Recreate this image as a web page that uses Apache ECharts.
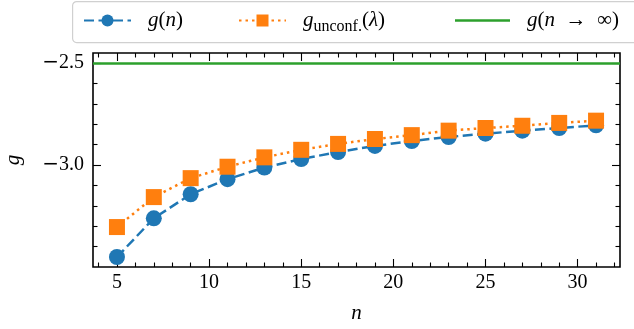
<!DOCTYPE html>
<html>
<head>
<meta charset="utf-8">
<script src="https://cdn.jsdelivr.net/npm/echarts@6/dist/echarts.min.js"></script>
<style>
  html, body { margin: 0; padding: 0; background: #fff; }
  #chart { width: 634px; height: 329px; }
</style>
</head>
<body>
<div id="chart"></div>
<script>
// System sizes n and the two estimates of g
const nValues = [5, 7, 9, 11, 13, 15, 17, 19, 21, 23, 25, 27, 29, 31];
const gFinite = [-3.451, -3.261, -3.143, -3.069, -3.012, -2.970, -2.936, -2.906, -2.882, -2.862, -2.846, -2.831, -2.818, -2.805];
const gUnconf = [-3.304, -3.157, -3.064, -3.008, -2.962, -2.925, -2.896, -2.872, -2.853, -2.831, -2.818, -2.807, -2.793, -2.782];
const gInf = -2.497;

// Axis extents and tick positions
const xRange = [3.7, 32.3];
const yRange = [-3.5, -2.45];
const xMajorTicks = [5, 10, 15, 20, 25, 30];
const xMinorTicks = [4, 6, 7, 8, 9, 11, 12, 13, 14, 16, 17, 18, 19, 21, 22, 23, 24, 26, 27, 28, 29, 31, 32];
const yMajorTicks = [-3.0, -2.5];
const yMinorTicks = [-3.4, -3.3, -3.2, -3.1, -2.9, -2.8, -2.7, -2.6];

const BLUE = '#1f77b4', ORANGE = '#ff7f0e', GREEN = '#2ca02c';
const SERIF = "'Liberation Serif', 'DejaVu Serif', serif";

function xAxisDef(position, ticks, len, labels) {
  return {
    type: 'value', min: xRange[0], max: xRange[1], position,
    axisLine: { show: false },
    splitLine: { show: false },
    axisTick: { show: true, inside: true, length: len, customValues: ticks,
                lineStyle: { color: '#000', width: 1.1 } },
    axisLabel: labels ? { show: true, customValues: ticks, fontFamily: SERIF, fontSize: 20,
                          color: '#000', margin: 6 } : { show: false },
    name: labels ? 'n' : '', nameLocation: 'middle', nameGap: 36,
    nameTextStyle: { fontFamily: SERIF, fontStyle: 'italic', fontSize: 21, color: '#000' }
  };
}
function yAxisDef(position, ticks, len, labels) {
  return {
    type: 'value', min: yRange[0], max: yRange[1], position,
    axisLine: { show: false },
    splitLine: { show: false },
    axisTick: { show: true, inside: true, length: len, customValues: ticks,
                lineStyle: { color: '#000', width: 1.1 } },
    axisLabel: labels ? {
      show: true, customValues: ticks, color: '#000', margin: 9,
      formatter: v => (v < 0 ? '{m|\u2212}' : '') + '{d|' + Math.abs(v).toFixed(1) + '}',
      rich: {
        m: { fontFamily: "'DejaVu Serif', serif", fontSize: 20, color: '#000' },
        d: { fontFamily: SERIF, fontSize: 20, color: '#000' }
      }
    } : { show: false },
    name: labels ? 'g' : '', nameLocation: 'middle', nameGap: 69, nameRotate: 90,
    nameTextStyle: { fontFamily: SERIF, fontStyle: 'italic', fontSize: 21, color: '#000' }
  };
}

const richText = {
  i: { fontFamily: SERIF, fontStyle: 'italic', fontSize: 21, color: '#000' },
  r: { fontFamily: SERIF, fontSize: 21, color: '#000' },
  s: { fontFamily: SERIF, fontSize: 16, color: '#000', padding: [12, 0, 0, 0] }
};
const legendLabels = {
  'g(n)': '{i|g}{r|(}{i|n}{r|)}',
  'g_unconf(λ)': '{i|g}{s|unconf.}{r|(}{i|λ}{r|)}',
  'g(n→∞)': '{i|g}{r|(}{i|n}{r|\u2002\u2192\u2002\u221E)}'
};
function legendDef(name, left, extra) {
  return Object.assign({
    data: [name], left, top: 10, padding: 0,
    itemWidth: 47, itemHeight: 15,
    selectedMode: false,
    formatter: nm => legendLabels[nm],
    textStyle: { rich: richText, padding: [0, 0, 0, 12] }
  }, extra || {});
}

const chart = echarts.init(document.getElementById('chart'), null, { renderer: 'canvas' });
chart.setOption({
  animation: false,
  backgroundColor: '#fff',
  grid: { left: 93, right: 14, top: 53, bottom: 62, show: true,
          outerBoundsMode: 'none', containLabel: false,
          borderColor: '#000', borderWidth: 1.6, backgroundColor: 'transparent' },
  graphic: [{
    type: 'rect', left: 72, top: 1, z: -1,
    shape: { width: 580, height: 41, r: 4 },
    style: { fill: '#fff', stroke: '#d0d0d0', lineWidth: 1.2 }
  }],
  legend: [
    legendDef('g(n)', 83),
    legendDef('g_unconf(λ)', 238),
    legendDef('g(n→∞)', 455, { icon: 'rect', itemWidth: 55, itemHeight: 2.5 })
  ],
  xAxis: [
    xAxisDef('bottom', xMajorTicks, 8, true),
    xAxisDef('bottom', xMinorTicks, 4.5, false),
    xAxisDef('top', xMajorTicks, 8, false),
    xAxisDef('top', xMinorTicks, 4.5, false)
  ],
  yAxis: [
    yAxisDef('left', yMajorTicks, 8, true),
    yAxisDef('left', yMinorTicks, 4.5, false),
    yAxisDef('right', yMajorTicks, 8, false),
    yAxisDef('right', yMinorTicks, 4.5, false)
  ],
  series: [
    {
      name: 'g(n)', type: 'line', xAxisIndex: 0, yAxisIndex: 0,
      data: nValues.map((n, i) => [n, gFinite[i]]),
      symbol: 'circle', symbolSize: 16,
      itemStyle: { color: BLUE },
      lineStyle: { color: BLUE, width: 2.5, type: [10, 4.5] },
      z: 3
    },
    {
      name: 'g_unconf(λ)', type: 'line', xAxisIndex: 0, yAxisIndex: 0,
      data: nValues.map((n, i) => [n, gUnconf[i]]),
      symbol: 'rect', symbolSize: 16,
      itemStyle: { color: ORANGE },
      lineStyle: { color: ORANGE, width: 2.5, type: [2.5, 4] },
      z: 4
    },
    {
      name: 'g(n→∞)', type: 'line', xAxisIndex: 0, yAxisIndex: 0,
      data: [], symbol: 'none',
      itemStyle: { color: GREEN },
      lineStyle: { color: GREEN, width: 2.5 },
      markLine: {
        silent: true, symbol: ['none', 'none'], label: { show: false },
        lineStyle: { color: GREEN, width: 2.5, type: 'solid' },
        data: [{ yAxis: gInf }]
      },
      z: 5
    }
  ]
});
</script>
</body>
</html>
